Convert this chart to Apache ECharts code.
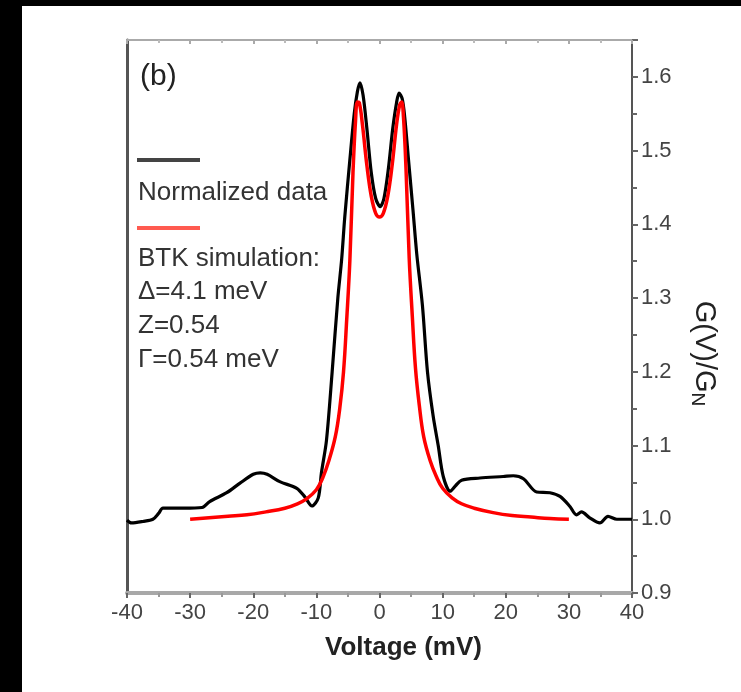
<!DOCTYPE html>
<html><head><meta charset="utf-8">
<script src="https://cdn.jsdelivr.net/npm/echarts@6/dist/echarts.min.js"></script>
<style>
html,body{margin:0;padding:0;background:#000;width:741px;height:692px;overflow:hidden}
#c{position:absolute;left:22px;top:6px;width:719px;height:686px;background:#fff}
</style>
</head><body><div id="c"></div>
<script>
// Voltage (mV) and G(V)/G_N pairs
const dataV = [-40,-39.3,-37.5,-35.9,-35,-34.3,-31,-28.1,-26.9,-24.2,-22.1,-20,-18.9,-17.8,-15.8,-13.1,-11.8,-10.7,-9.7,-9.2,-8.4,-7.5,-6.6,-6.0,-5.5,-4.7,-4.0,-3.5,-3.1,-2.6,-2.0,-1.3,-0.6,0.1,0.7,1.4,2.1,2.7,3.1,3.6,4.0,4.6,5.3,5.9,6.8,7.6,8.5,9.3,10.1,11.2,12,13,15.9,19.6,21.2,22.8,24.9,27,28.6,30.2,31.2,32,33.3,34.9,36.2,37.6,40];
const dataG = [0.999,0.995,0.997,1.000,1.008,1.015,1.015,1.016,1.024,1.036,1.049,1.061,1.063,1.061,1.051,1.042,1.030,1.018,1.029,1.063,1.107,1.200,1.300,1.352,1.410,1.487,1.550,1.580,1.592,1.575,1.530,1.470,1.435,1.424,1.435,1.475,1.530,1.565,1.578,1.570,1.545,1.487,1.420,1.360,1.290,1.200,1.140,1.100,1.058,1.038,1.045,1.053,1.056,1.058,1.059,1.055,1.037,1.036,1.031,1.017,1.006,1.010,1.002,0.995,1.004,1.000,1.000];
const btkV = [-30,-27,-24,-21,-18,-15,-13,-11.5,-10,-9,-8,-7,-6.3,-5.7,-5.2,-4.7,-4.2,-3.8,-3.5,-3.2,-2.7,-2.0,-1.3,-0.6,0,0.6,1.3,2.0,2.7,3.2,3.5,3.8,4.2,4.7,5.2,5.7,6.3,7,8,9,10,11.5,13,15,18,21,24,27,30];
const btkG = [1.000,1.002,1.004,1.006,1.010,1.015,1.021,1.028,1.040,1.056,1.080,1.112,1.150,1.200,1.270,1.350,1.470,1.540,1.566,1.565,1.535,1.480,1.438,1.415,1.410,1.415,1.438,1.480,1.535,1.562,1.566,1.545,1.475,1.355,1.275,1.205,1.155,1.112,1.080,1.058,1.042,1.029,1.021,1.015,1.009,1.005,1.003,1.001,1.000];
const seriesNames = ['Normalized data','BTK simulation:'];
const paramLines = ['Δ=4.1 meV','Z=0.54','Γ=0.54 meV'];
const panelLabel = '(b)';

const pair = (xs, ys) => xs.map((x, i) => [x, ys[i]]);
const chart = echarts.init(document.getElementById('c'), null, {renderer:'canvas'});
const font = 'Liberation Sans, Arial, sans-serif';
const textCol = '#333';
const OX = 22, OY = 6;
chart.setOption({
  animation:false,
  backgroundColor:'#fff',
  textStyle:{fontFamily:font},
  grid:{left:127-OX, right:741-632, top:40-OY, bottom:692-593},
  xAxis:[{
    type:'value', min:-40, max:40, interval:10, position:'bottom',
    name:'Voltage (mV)', nameLocation:'middle', nameGap:42,
    nameTextStyle:{fontSize:26, fontWeight:'bold', color:'#222', fontFamily:font, padding:[0,0,0,48]},
    axisLine:{show:true, onZero:false, lineStyle:{color:'#a8a8a8', width:4}},
    axisTick:{show:true, inside:false, length:5, lineStyle:{color:'#666', width:2}},
    minorTick:{show:true, splitNumber:2, length:4, lineStyle:{color:'#999', width:2}},
    axisLabel:{fontSize:22, color:'#444', margin:9, fontFamily:font},
    splitLine:{show:false}
  },{
    type:'value', min:-40, max:40, interval:10, position:'top',
    axisLine:{show:true, onZero:false, lineStyle:{color:'#aaa', width:2}},
    axisTick:{show:true, inside:true, length:4, lineStyle:{color:'#aaa', width:2}},
    minorTick:{show:true, splitNumber:2, length:3, lineStyle:{color:'#bbb', width:2}},
    axisLabel:{show:false}, splitLine:{show:false}
  }],
  yAxis:[{
    type:'value', min:0.9, max:1.65, interval:0.1, position:'right',
    name:'{a|G(V)/G}{s|N}', nameLocation:'middle', nameGap:56, nameRotate:-90,
    nameTextStyle:{color:'#222', padding:[0,0,0,74],
      rich:{a:{fontSize:29, color:'#222', fontFamily:font}, s:{fontSize:19, color:'#222', fontFamily:font, verticalAlign:'bottom', padding:[12,0,0,0]}}},
    axisLine:{show:true, onZero:false, lineStyle:{color:'#555', width:2}},
    axisTick:{show:true, inside:false, length:6, lineStyle:{color:'#666', width:2}},
    minorTick:{show:true, splitNumber:2, length:5, lineStyle:{color:'#666', width:2}},
    axisLabel:{fontSize:22, color:'#444', margin:9, showMaxLabel:false, fontFamily:font,
      formatter:v => v.toFixed(1)},
    splitLine:{show:false}
  },{
    type:'value', min:0.9, max:1.65, position:'left',
    axisLine:{show:true, onZero:false, lineStyle:{color:'#555', width:3}},
    axisTick:{show:false}, axisLabel:{show:false}, splitLine:{show:false}
  }],
  series:[{
    name:seriesNames[0], type:'line', data:pair(dataV, dataG), showSymbol:false, smooth:0.3,
    lineStyle:{color:'#000', width:3.2}, itemStyle:{color:'#000'}, z:2
  },{
    name:seriesNames[1], type:'line', data:pair(btkV, btkG), showSymbol:false, smooth:0.4,
    lineStyle:{color:'#ff0000', width:3.5}, itemStyle:{color:'#ff0000'}, z:3
  }],
  graphic:[
    {type:'text', left:140-OX, top:80-OY-18, style:{text:panelLabel, font:'30px '+font, fill:'#222'}},
    {type:'line', shape:{x1:137-OX, y1:160-OY, x2:200-OX, y2:160-OY}, style:{stroke:'#444', lineWidth:4}},
    {type:'text', left:138-OX, top:195-OY-15, style:{text:seriesNames[0], font:'26px '+font, fill:textCol}},
    {type:'line', shape:{x1:137-OX, y1:228-OY, x2:200-OX, y2:228-OY}, style:{stroke:'#ff5a50', lineWidth:4}},
    {type:'text', left:138-OX, top:261-OY-15, style:{text:seriesNames[1], font:'26px '+font, fill:textCol}},
    {type:'text', left:138-OX, top:294-OY-15, style:{text:paramLines[0], font:'26px '+font, fill:textCol}},
    {type:'text', left:138-OX, top:328-OY-15, style:{text:paramLines[1], font:'26px '+font, fill:textCol}},
    {type:'text', left:138-OX, top:362-OY-15, style:{text:paramLines[2], font:'26px '+font, fill:textCol}}
  ]
});
</script></body></html>
